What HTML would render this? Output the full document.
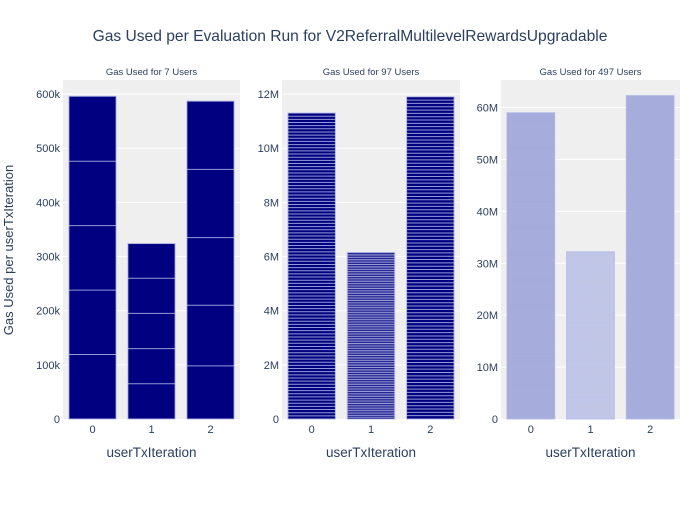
<!DOCTYPE html>
<html><head><meta charset="utf-8"><style>
body{margin:0;background:#fff;font-family:"Liberation Sans",sans-serif}
svg text{font-family:"Liberation Sans",sans-serif;fill:#2a3f5f}
</style></head><body>
<svg id="chart" width="700" height="500"></svg>
<script>
const categories=["0","1","2"];
const p1Segments=[[119000,119000,119000,119000,120000],[65000,65000,65000,65000,64000],[98000,112000,125000,126000,126000]];
const p2Totals=[11300000,6150000,11900000];
const p3Totals=[59000000,32200000,62300000];
const p2Users=[97,97,97];
const p3Users=[497,497,497];
const p1Ticks=[0,100000,200000,300000,400000,500000,600000];
const p1TickLabels=["0","100k","200k","300k","400k","500k","600k"];
const p2Ticks=[0,2e6,4e6,6e6,8e6,10e6,12e6];
const p2TickLabels=["0","2M","4M","6M","8M","10M","12M"];
const p3Ticks=[0,1e7,2e7,3e7,4e7,5e7,6e7];
const p3TickLabels=["0","10M","20M","30M","40M","50M","60M"];
const titles=["Gas Used for 7 Users","Gas Used for 97 Users","Gas Used for 497 Users"];
const NS="http://www.w3.org/2000/svg";
const svg=document.getElementById('chart');
function el(t,a,p){const e=document.createElementNS(NS,t);for(const k in a)e.setAttribute(k,a[k]);(p||svg).appendChild(e);return e;}
const plotTop=80,plotBot=419;
const panels=[
 {x0:63,x1:240,max:626000,ticks:p1Ticks,labels:p1TickLabels,title:titles[0]},
 {x0:282,x1:460,max:12520000,ticks:p2Ticks,labels:p2TickLabels,title:titles[1]},
 {x0:501,x1:680,max:65300000,ticks:p3Ticks,labels:p3TickLabels,title:titles[2]}
];
let t=el('text',{x:350,y:41,'text-anchor':'middle','font-size':15.6});t.textContent="Gas Used per Evaluation Run for V2ReferralMultilevelRewardsUpgradable";


t=el('text',{x:13,y:250,'text-anchor':'middle','font-size':13,transform:'rotate(-90 13 250)'});t.textContent="Gas Used per userTxIteration";


panels.forEach((p,pi)=>{
 const g=el('g',{});
 
 
 const y=v=>plotBot-(v/p.max)*(plotBot-plotTop);
 const bw=(p.x1-p.x0)/3;
 const xc=i=>p.x0+bw*(i+0.5);
 el('rect',{x:p.x0,y:plotTop,width:p.x1-p.x0,height:plotBot-plotTop,fill:'#efefef'},g);
 p.ticks.forEach((tv,i)=>{
  if(tv>0)el('line',{x1:p.x0,x2:p.x1,y1:y(tv),y2:y(tv),stroke:'#fff','stroke-width':1},g);
  const tl=el('text',{x:p.x0-3,y:y(tv)+4,'text-anchor':'end','font-size':11},g);tl.textContent=p.labels[i];
  
  
 });
 const st=el('text',{x:(p.x0+p.x1)/2,y:75,'text-anchor':'middle','font-size':9.5},g);st.textContent=p.title;
 
 
 categories.forEach((c,i)=>{
  const bx=xc(i)-bw*0.4,w=bw*0.8;
  let segs;
  if(pi===0)segs=p1Segments[i];
  else{const tot=pi===1?p2Totals[i]:p3Totals[i];const n=pi===1?p2Users[i]:p3Users[i];segs=new Array(n).fill(tot/n);}
  const total=segs.reduce((a,b)=>a+b,0);
  let fill='#000080',line='rgba(200,205,240,0.75)',lw=1;
  if(pi===2){fill=i===1?'#c6cae9':'#aab0de';line=i===1?'rgba(160,166,215,0.06)':'rgba(150,156,210,0.2)';lw=0.5;}
  const b=el('rect',{x:bx,y:y(total),width:w,height:y(0)-y(total),fill:fill,stroke:'rgba(180,186,230,0.9)','stroke-width':1},g);
  
  
  let acc=0;
  segs.forEach((s,k)=>{acc+=s;if(k<segs.length-1){el('line',{x1:bx,x2:bx+w,y1:y(acc),y2:y(acc),stroke:line,'stroke-width':lw},g);}});
  const xl=el('text',{x:xc(i),y:433,'text-anchor':'middle','font-size':11},g);xl.textContent=c;
  
  
 });
 const xt=el('text',{x:(p.x0+p.x1)/2,y:457,'text-anchor':'middle','font-size':13.5},g);xt.textContent="userTxIteration";
 
 
});
</script>
</body></html>
